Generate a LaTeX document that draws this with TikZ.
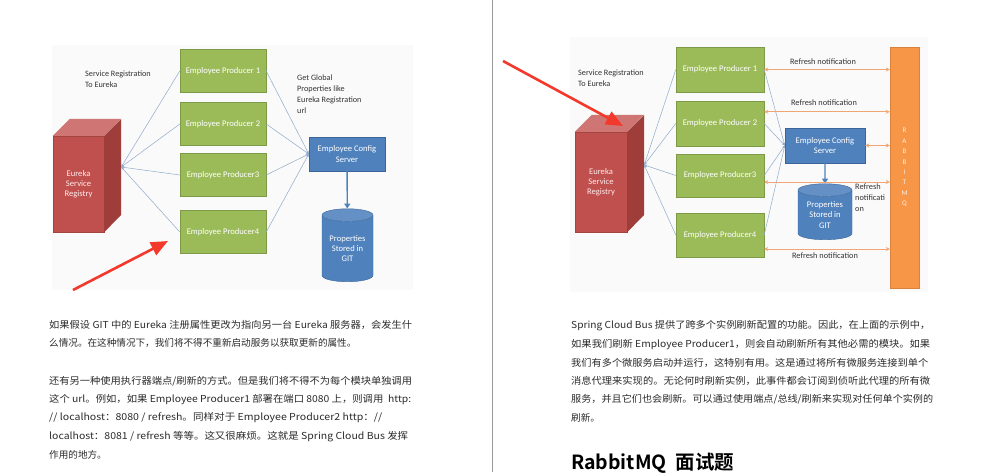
\documentclass[tikz,border=0pt]{standalone}
\usepackage{graphicx}
\usepackage{fontspec}
\setmainfont{Noto Sans CJK SC}[BoldFont={Noto Sans CJK SC Bold}]
\newfontfamily\diagfont{Carlito}
\usetikzlibrary{arrows.meta,shapes.geometric,calc}

\definecolor{prodgreen}{HTML}{9BBB59}
\definecolor{prodline}{HTML}{7D9A48}
\definecolor{cfgblue}{HTML}{4F81BD}
\definecolor{cfgline}{HTML}{3A659A}
\definecolor{eurfront}{HTML}{C0504D}
\definecolor{eurtop}{HTML}{CF7573}
\definecolor{eurside}{HTML}{9E3D3A}
\definecolor{mqorange}{HTML}{F79646}
\definecolor{mqline}{HTML}{D9823C}
\definecolor{refreshorange}{HTML}{EFA574}
\definecolor{linkblue}{HTML}{8FAACB}
\definecolor{markred}{HTML}{F2392C}
\definecolor{bodygray}{HTML}{2B2B2B}
\definecolor{labelgray}{HTML}{333333}

% stretch one printed line to its justified width
\newcommand\fitw[2]{\resizebox{#1}{\height}{#2}}

\tikzset{
  boxfont/.style={font=\diagfont\fontsize{8.6}{10.2}\selectfont},
  producer/.style={boxfont, draw=prodline, fill=prodgreen, text=white,
    inner sep=0pt, minimum width=86pt, minimum height=43pt},
  eurekabox/.style={boxfont, draw=eurfront!85!black, fill=eurfront, text=white!92!red,
    align=center, inner sep=0pt, minimum width=51pt, minimum height=96pt},
  cfgbox/.style={boxfont, draw=cfgline, fill=cfgblue, text=white, align=center,
    inner sep=0pt, minimum width=76pt, minimum height=34pt},
  gitdb/.style={boxfont, cylinder, shape border rotate=90, aspect=0.35, draw=cfgline,
    cylinder uses custom fill, cylinder body fill=cfgblue, cylinder end fill=cfgblue!88!white,
    text=white, align=center, inner sep=0pt, minimum width=51pt, minimum height=73pt},
  mqbar/.style={draw=mqline, fill=mqorange, text=white!85!mqorange, align=center,
    font=\diagfont\fontsize{7}{10.4}\selectfont, inner sep=0pt,
    minimum width=29pt, minimum height=241pt},
  note/.style={font=\diagfont\fontsize{8.2}{10.8}\selectfont, text=labelgray, align=left,
    inner sep=0pt},
  link/.style={draw=linkblue, line width=0.5pt, -{Stealth[length=3pt,width=2.5pt]}},
  dbarrow/.style={draw=cfgblue, line width=1.4pt, -{Triangle[length=5pt,width=6pt]}},
  refresh/.style={draw=refreshorange, line width=1pt,
    {Stealth[length=4pt,width=4pt]}-{Stealth[length=4pt,width=4pt]}},
  refreshlabel/.style={font=\diagfont\fontsize{8.3}{10.8}\selectfont, text=labelgray,
    inner sep=0pt},
  pointer/.style={draw=markred, line width=2.6pt, -{Triangle[length=17pt,width=14pt]}},
  bodytext/.style={anchor=base west, inner sep=0pt, text=bodygray,
    font=\fontsize{9.6}{11}\selectfont},
}

\begin{document}
\begin{tikzpicture}[x=1pt, y=-1pt]
  \clip (0,0) rectangle (982,472);
  \fill[white] (0,0) rectangle (982,472);
  % faint backgrounds of the two pasted pictures
  \fill[black!2] (52,45) rectangle (413,290);
  \fill[black!2] (570,37) rectangle (928,292);
  \draw[black!40, line width=1pt] (492,0) -- (492,472);

  % ---------- left picture ----------
  \node[eurekabox] (leur) at (78.5,184) {Eureka\\Service\\Registry};
  \fill[eurtop] (leur.north west) -- ++(17,-17) -- ++(51,0) -- (leur.north east) -- cycle;
  \fill[eurside] (leur.north east) -- ++(17,-17) -- ++(0,96) -- (leur.south east) -- cycle;
  \coordinate (lhub) at ($(leur.east)+(17,-17)$);

  \node[producer] (lp1) at (223,71) {Employee Producer 1};
  \node[producer] (lp2) at (223,124) {Employee Producer 2};
  \node[producer] (lp3) at (223,175) {Employee Producer3};
  \node[producer] (lp4) at (223,232) {Employee Producer4};
  \node[cfgbox] (lcfg) at (347,154) {Employee Config\\Server};
  \node[gitdb] (lgit) at (347.5,248.5) {Properties\\Stored in\\GIT};

  \node[note, anchor=west] (lreg) at (85,79) {Service Registration\\To Eureka};
  \node[note, anchor=west] (lget) at (297,94) {Get Global\\Properties like\\Eureka Registration\\url};

  \foreach \p in {lp1,lp2,lp3,lp4} {
    \draw[link] (\p.west) -- (lhub);
    \draw[link] (\p.east) -- (lcfg.west);
  }
  \draw[dbarrow] (lcfg) -- (lgit);

  \coordinate (lptail) at (73,290);
  \coordinate (lphead) at (168,241);
  \draw[pointer] (lptail) -- (lphead);

  % ---------- right picture ----------
  \node[eurekabox, minimum width=52pt, minimum height=100pt] (reur) at (601,182) {Eureka\\Service\\Registry};
  \fill[eurtop] (reur.north west) -- ++(17,-17) -- ++(52,0) -- (reur.north east) -- cycle;
  \fill[eurside] (reur.north east) -- ++(17,-17) -- ++(0,100) -- (reur.south east) -- cycle;
  \coordinate (rhub) at ($(reur.east)+(17,-17)$);

  \node[producer, minimum width=88pt, minimum height=45pt] (rp1) at (720,69.5) {Employee Producer 1};
  \node[producer, minimum width=88pt, minimum height=45pt] (rp2) at (720,123.5) {Employee Producer 2};
  \node[producer, minimum width=88pt, minimum height=43pt] (rp3) at (720,175.5) {Employee Producer3};
  \node[producer, minimum width=88pt, minimum height=44pt] (rp4) at (720,235) {Employee Producer4};
  \node[cfgbox, minimum width=80pt, minimum height=35pt] (rcfg) at (825,145.5) {Employee Config\\Server};
  \node[gitdb, minimum width=54pt, minimum height=56pt] (rgit) at (825,215) {Properties\\Stored in\\GIT};
  \node[mqbar] (rmq) at (904.5,167.5) {R\\A\\B\\B\\I\\T\\M\\Q};

  \node[note, anchor=west] (rreg) at (578,78) {Service Registration\\To Eureka};

  \foreach \p in {rp1,rp2,rp3,rp4} {
    \draw[link] (\p.west) -- (rhub);
    \draw[link] (\p.east) -- (rcfg.west);
  }
  \draw[dbarrow] (rcfg) -- (rgit);

  \coordinate (ra1) at (rp1.east);
  \coordinate (ra2) at ([yshift=-11pt]rp2.north east);
  \coordinate (ra3) at (rcfg.east);
  \coordinate (ra4) at ([yshift=-6.5pt]rp3.east);
  \coordinate (ra5) at ([yshift=-14pt]rp4.east);
  \draw[refresh] (ra1) -- (ra1 -| rmq.west) node[refreshlabel, midway, above=4pt, xshift=-4pt] {Refresh notification};
  \draw[refresh] (ra2) -- (ra2 -| rmq.west) node[refreshlabel, midway, above=6pt, xshift=-3pt] {Refresh notification};
  \draw[refresh] (ra3) -- (ra3 -| rmq.west);
  \draw[refresh] (ra4) -- (ra4 -| rmq.west);
  \draw[refresh] (ra5) -- (ra5 -| rmq.west) node[refreshlabel, midway, below=3pt, xshift=-2pt] {Refresh notification};
  \node[refreshlabel, anchor=north west, align=left] (rn4) at (855,184) {Refresh\\notificati\\on};

  \coordinate (rptail) at (503,61);
  \coordinate (rphead) at (623,126);
  \draw[pointer] (rptail) -- (rphead);

  % ---------- page text ----------
  \node[bodytext] (l1) at (49,328.5) {\fitw{363pt}{如果假设 GIT 中的 Eureka 注册属性更改为指向另一台 Eureka 服务器，会发生什}};
  \node[bodytext] (l2) at (49,346.5) {么情况。在这种情况下，我们将不得不重新启动服务以获取更新的属性。};
  \node[bodytext] (l3) at (49,384.5) {\fitw{363pt}{还有另一种使用执行器端点/刷新的方式。但是我们将不得不为每个模块单独调用}};
  \node[bodytext] (l4) at (49,402.5) {\fitw{362pt}{这个 url。例如，如果 Employee Producer1 部署在端口 8080 上，则调用\ \ http:}};
  \node[bodytext] (l5) at (49,420.5) {\fitw{333pt}{// localhost：8080 / refresh。同样对于 Employee Producer2 http：//}};
  \node[bodytext] (l6) at (49,439.5) {\fitw{359pt}{localhost：8081 / refresh 等等。这又很麻烦。这就是 Spring Cloud Bus 发挥}};
  \node[bodytext] (l7) at (49,458.5) {作用的地方。};

  \node[bodytext] (r1) at (571,328.5) {\fitw{359pt}{Spring Cloud Bus 提供了跨多个实例刷新配置的功能。因此，在上面的示例中，}};
  \node[bodytext] (r2) at (571,347.5) {\fitw{359pt}{如果我们刷新 Employee Producer1，则会自动刷新所有其他必需的模块。如果}};
  \node[bodytext] (r3) at (571,366.5) {\fitw{357pt}{我们有多个微服务启动并运行，这特别有用。这是通过将所有微服务连接到单个}};
  \node[bodytext] (r4) at (571,384.5) {\fitw{359pt}{消息代理来实现的。无论何时刷新实例，此事件都会订阅到侦听此代理的所有微}};
  \node[bodytext] (r5) at (571,402.5) {\fitw{362pt}{服务，并且它们也会刷新。可以通过使用端点/总线/刷新来实现对任何单个实例的}};
  \node[bodytext] (r6) at (571,421.5) {刷新。};
  \node[anchor=base west, inner sep=0pt, text=black, font=\bfseries\fontsize{19.5}{22}\selectfont] (rhead) at (571,469) {RabbitMQ\ \ 面试题};
\end{tikzpicture}
\end{document}
